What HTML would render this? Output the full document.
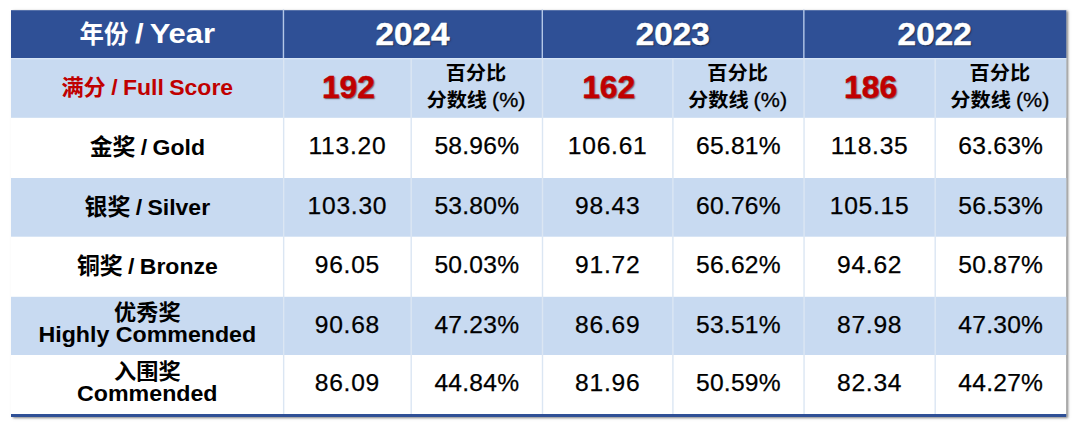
<!DOCTYPE html>
<html lang="zh"><head><meta charset="utf-8"><title>Score table</title>
<style>
html,body{margin:0;padding:0;background:#fff;}
body{width:1080px;height:429px;position:relative;overflow:hidden;font-family:"Liberation Sans",sans-serif;color:#000;}
#tbl{position:absolute;left:11px;top:10.2px;width:1055.3px;height:406.8px;background:#fff;box-shadow:2.4px 1.4px 2.4px rgba(0,0,0,.5);}
.t{position:absolute;height:0;line-height:0;font-size:0;white-space:nowrap;transform:translateX(-50%);}
.t:before{content:"";display:inline-block;width:0;height:40px;}
.t>*{vertical-align:baseline;}
.l{display:inline-block;line-height:1;transform-origin:0 84.65%;white-space:pre;}
.b{font-weight:700;}
.n{font-weight:400;}
.cj{font-family:"Liberation Sans","Noto Sans CJK SC",sans-serif;}
.sh{text-shadow:1px 1.2px 1.5px rgba(0,0,0,.55);}
</style></head><body>

<div id="tbl"></div>
<svg id="bg" width="1080" height="429" viewBox="0 0 1080 429" style="position:absolute;left:0;top:0"><rect x="11" y="10.2" width="1055.3" height="406.8" fill="#fff"/><rect x="11" y="10.2" width="1055.3" height="47.9" fill="#2f5096"/><rect x="11" y="58.1" width="1055.3" height="59.7" fill="#c8daf1"/><rect x="11" y="178" width="1055.3" height="58.7" fill="#c8daf1"/><rect x="11" y="296.8" width="1055.3" height="58.2" fill="#c8daf1"/><rect x="11" y="58.1" width="1055.3" height="1.2" fill="#dbe7f7"/><rect x="282.75" y="9.6" width="1.4" height="48.50000000000001" fill="#b4c7e7"/><rect x="541.60" y="9.6" width="1.4" height="48.50000000000001" fill="#b4c7e7"/><rect x="803.15" y="9.6" width="1.4" height="48.50000000000001" fill="#b4c7e7"/><rect x="282.95" y="58.1" width="1.4" height="355.9" fill="#dbe6f3"/><rect x="410.50" y="58.1" width="1.4" height="355.9" fill="#dbe6f3"/><rect x="541.80" y="58.1" width="1.4" height="355.9" fill="#dbe6f3"/><rect x="672.20" y="58.1" width="1.4" height="355.9" fill="#dbe6f3"/><rect x="803.35" y="58.1" width="1.4" height="355.9" fill="#dbe6f3"/><rect x="934.50" y="58.1" width="1.4" height="355.9" fill="#dbe6f3"/><rect x="11" y="414" width="1055.3" height="3" fill="#2f5096"/></svg>
<div class="t" style="left:147.32px;top:3.00px;"><span class="l b cj" style="font-size:24.45px;transform:scaleY(1.031);color:#fff">年份</span><span class="l b" style="font-size:31.00px;transform:scaleY(0.890);color:#fff;word-spacing:-2px"> / Year</span></div>
<div class="t" style="left:413.07px;top:4.90px;"><span class="l b sh" style="font-size:33.30px;transform:scaleY(0.924);-webkit-text-stroke:0.5px #fff;color:#fff;margin-left:-1px">2024</span></div>
<div class="t" style="left:673.27px;top:4.90px;"><span class="l b sh" style="font-size:33.30px;transform:scaleY(0.924);-webkit-text-stroke:0.5px #fff;color:#fff;margin-left:-1px">2023</span></div>
<div class="t" style="left:935.17px;top:4.90px;"><span class="l b sh" style="font-size:33.30px;transform:scaleY(0.924);-webkit-text-stroke:0.5px #fff;color:#fff;margin-left:-1px">2022</span></div>
<div class="t" style="left:147.32px;top:55.00px;"><span class="l b cj" style="font-size:22.15px;transform:scaleY(0.971);color:#c00000">满分</span><span class="l b" style="font-size:23.00px;transform:scaleY(0.940);word-spacing:-1px;color:#c00000"> / Full Score</span></div>
<div class="t" style="left:347.42px;top:57.60px;"><span class="l b sh" style="font-size:31.80px;transform:scaleY(0.960);padding-left:2px;-webkit-text-stroke:0.5px #c00000;color:#c00000">192</span></div>
<div class="t" style="left:475.95px;top:39.60px;"><span class="l b cj" style="font-size:20.21px;transform:scaleY(0.930);color:#000">百分比</span></div>
<div class="t" style="left:475.95px;top:67.20px;"><span class="l b cj" style="font-size:20.21px;transform:scaleY(0.930);color:#000">分数线</span><span class="l n" style="font-size:21.50px;transform:scaleY(0.920);-webkit-text-stroke:0.3px #000;word-spacing:-1px"> (%)</span></div>
<div class="t" style="left:607.70px;top:57.60px;"><span class="l b sh" style="font-size:31.80px;transform:scaleY(0.960);padding-left:2px;-webkit-text-stroke:0.5px #c00000;color:#c00000">162</span></div>
<div class="t" style="left:737.57px;top:39.60px;"><span class="l b cj" style="font-size:20.21px;transform:scaleY(0.930);color:#000">百分比</span></div>
<div class="t" style="left:737.57px;top:67.20px;"><span class="l b cj" style="font-size:20.21px;transform:scaleY(0.930);color:#000">分数线</span><span class="l n" style="font-size:21.50px;transform:scaleY(0.920);-webkit-text-stroke:0.3px #000;word-spacing:-1px"> (%)</span></div>
<div class="t" style="left:869.62px;top:57.60px;"><span class="l b sh" style="font-size:31.80px;transform:scaleY(0.960);padding-left:2px;-webkit-text-stroke:0.5px #c00000;color:#c00000">186</span></div>
<div class="t" style="left:999.85px;top:39.60px;"><span class="l b cj" style="font-size:20.21px;transform:scaleY(0.930);color:#000">百分比</span></div>
<div class="t" style="left:999.85px;top:67.20px;"><span class="l b cj" style="font-size:20.21px;transform:scaleY(0.930);color:#000">分数线</span><span class="l n" style="font-size:21.50px;transform:scaleY(0.920);-webkit-text-stroke:0.3px #000;word-spacing:-1px"> (%)</span></div>
<div class="t" style="left:147.32px;top:114.90px;"><span class="l b cj" style="font-size:22.87px;transform:scaleY(0.971);color:#000">金奖</span><span class="l b" style="font-size:23.00px;transform:scaleY(0.980);word-spacing:-1px"> / Gold</span></div>
<div class="t" style="left:347.42px;top:113.80px;"><span class="l n" style="font-size:24.60px;transform:scaleY(1.000);-webkit-text-stroke:0.25px #000;letter-spacing:0.75px">113.20</span></div>
<div class="t" style="left:476.85px;top:113.80px;"><span class="l n" style="font-size:24.60px;transform:scaleY(1.000);-webkit-text-stroke:0.25px #000;letter-spacing:0.25px">58.96%</span></div>
<div class="t" style="left:607.70px;top:113.80px;"><span class="l n" style="font-size:24.60px;transform:scaleY(1.000);-webkit-text-stroke:0.25px #000;letter-spacing:0.75px">106.61</span></div>
<div class="t" style="left:738.47px;top:113.80px;"><span class="l n" style="font-size:24.60px;transform:scaleY(1.000);-webkit-text-stroke:0.25px #000;letter-spacing:0.25px">65.81%</span></div>
<div class="t" style="left:869.62px;top:113.80px;"><span class="l n" style="font-size:24.60px;transform:scaleY(1.000);-webkit-text-stroke:0.25px #000;letter-spacing:0.75px">118.35</span></div>
<div class="t" style="left:1000.75px;top:113.80px;"><span class="l n" style="font-size:24.60px;transform:scaleY(1.000);-webkit-text-stroke:0.25px #000;letter-spacing:0.25px">63.63%</span></div>
<div class="t" style="left:147.32px;top:175.00px;"><span class="l b cj" style="font-size:22.87px;transform:scaleY(0.971);color:#000">银奖</span><span class="l b" style="font-size:23.00px;transform:scaleY(0.980);word-spacing:-1px"> / Silver</span></div>
<div class="t" style="left:347.42px;top:174.00px;"><span class="l n" style="font-size:24.60px;transform:scaleY(1.000);-webkit-text-stroke:0.25px #000;letter-spacing:0.75px">103.30</span></div>
<div class="t" style="left:476.85px;top:174.00px;"><span class="l n" style="font-size:24.60px;transform:scaleY(1.000);-webkit-text-stroke:0.25px #000;letter-spacing:0.25px">53.80%</span></div>
<div class="t" style="left:607.70px;top:174.00px;"><span class="l n" style="font-size:24.60px;transform:scaleY(1.000);-webkit-text-stroke:0.25px #000;letter-spacing:0.75px">98.43</span></div>
<div class="t" style="left:738.47px;top:174.00px;"><span class="l n" style="font-size:24.60px;transform:scaleY(1.000);-webkit-text-stroke:0.25px #000;letter-spacing:0.25px">60.76%</span></div>
<div class="t" style="left:869.62px;top:174.00px;"><span class="l n" style="font-size:24.60px;transform:scaleY(1.000);-webkit-text-stroke:0.25px #000;letter-spacing:0.75px">105.15</span></div>
<div class="t" style="left:1000.75px;top:174.00px;"><span class="l n" style="font-size:24.60px;transform:scaleY(1.000);-webkit-text-stroke:0.25px #000;letter-spacing:0.25px">56.53%</span></div>
<div class="t" style="left:147.32px;top:233.50px;"><span class="l b cj" style="font-size:22.87px;transform:scaleY(0.971);color:#000">铜奖</span><span class="l b" style="font-size:23.00px;transform:scaleY(0.980);word-spacing:-1px"> / Bronze</span></div>
<div class="t" style="left:347.42px;top:232.70px;"><span class="l n" style="font-size:24.60px;transform:scaleY(1.000);-webkit-text-stroke:0.25px #000;letter-spacing:0.75px">96.05</span></div>
<div class="t" style="left:476.85px;top:232.70px;"><span class="l n" style="font-size:24.60px;transform:scaleY(1.000);-webkit-text-stroke:0.25px #000;letter-spacing:0.25px">50.03%</span></div>
<div class="t" style="left:607.70px;top:232.70px;"><span class="l n" style="font-size:24.60px;transform:scaleY(1.000);-webkit-text-stroke:0.25px #000;letter-spacing:0.75px">91.72</span></div>
<div class="t" style="left:738.47px;top:232.70px;"><span class="l n" style="font-size:24.60px;transform:scaleY(1.000);-webkit-text-stroke:0.25px #000;letter-spacing:0.25px">56.62%</span></div>
<div class="t" style="left:869.62px;top:232.70px;"><span class="l n" style="font-size:24.60px;transform:scaleY(1.000);-webkit-text-stroke:0.25px #000;letter-spacing:0.75px">94.62</span></div>
<div class="t" style="left:1000.75px;top:232.70px;"><span class="l n" style="font-size:24.60px;transform:scaleY(1.000);-webkit-text-stroke:0.25px #000;letter-spacing:0.25px">50.87%</span></div>
<div class="t" style="left:147.32px;top:279.80px;"><span class="l b cj" style="font-size:22.15px;transform:scaleY(0.971);color:#000">优秀奖</span></div>
<div class="t" style="left:147.32px;top:301.50px;"><span class="l b" style="font-size:23.20px;transform:scaleY(0.930);">Highly Commended</span></div>
<div class="t" style="left:347.42px;top:292.80px;"><span class="l n" style="font-size:24.60px;transform:scaleY(1.000);-webkit-text-stroke:0.25px #000;letter-spacing:0.75px">90.68</span></div>
<div class="t" style="left:476.85px;top:292.80px;"><span class="l n" style="font-size:24.60px;transform:scaleY(1.000);-webkit-text-stroke:0.25px #000;letter-spacing:0.25px">47.23%</span></div>
<div class="t" style="left:607.70px;top:292.80px;"><span class="l n" style="font-size:24.60px;transform:scaleY(1.000);-webkit-text-stroke:0.25px #000;letter-spacing:0.75px">86.69</span></div>
<div class="t" style="left:738.47px;top:292.80px;"><span class="l n" style="font-size:24.60px;transform:scaleY(1.000);-webkit-text-stroke:0.25px #000;letter-spacing:0.25px">53.51%</span></div>
<div class="t" style="left:869.62px;top:292.80px;"><span class="l n" style="font-size:24.60px;transform:scaleY(1.000);-webkit-text-stroke:0.25px #000;letter-spacing:0.75px">87.98</span></div>
<div class="t" style="left:1000.75px;top:292.80px;"><span class="l n" style="font-size:24.60px;transform:scaleY(1.000);-webkit-text-stroke:0.25px #000;letter-spacing:0.25px">47.30%</span></div>
<div class="t" style="left:147.32px;top:339.30px;"><span class="l b cj" style="font-size:22.15px;transform:scaleY(0.971);color:#000">入围奖</span></div>
<div class="t" style="left:147.32px;top:360.70px;"><span class="l b" style="font-size:23.20px;transform:scaleY(0.930);">Commended</span></div>
<div class="t" style="left:347.42px;top:351.00px;"><span class="l n" style="font-size:24.60px;transform:scaleY(1.000);-webkit-text-stroke:0.25px #000;letter-spacing:0.75px">86.09</span></div>
<div class="t" style="left:476.85px;top:351.00px;"><span class="l n" style="font-size:24.60px;transform:scaleY(1.000);-webkit-text-stroke:0.25px #000;letter-spacing:0.25px">44.84%</span></div>
<div class="t" style="left:607.70px;top:351.00px;"><span class="l n" style="font-size:24.60px;transform:scaleY(1.000);-webkit-text-stroke:0.25px #000;letter-spacing:0.75px">81.96</span></div>
<div class="t" style="left:738.47px;top:351.00px;"><span class="l n" style="font-size:24.60px;transform:scaleY(1.000);-webkit-text-stroke:0.25px #000;letter-spacing:0.25px">50.59%</span></div>
<div class="t" style="left:869.62px;top:351.00px;"><span class="l n" style="font-size:24.60px;transform:scaleY(1.000);-webkit-text-stroke:0.25px #000;letter-spacing:0.75px">82.34</span></div>
<div class="t" style="left:1000.75px;top:351.00px;"><span class="l n" style="font-size:24.60px;transform:scaleY(1.000);-webkit-text-stroke:0.25px #000;letter-spacing:0.25px">44.27%</span></div>
</body></html>
